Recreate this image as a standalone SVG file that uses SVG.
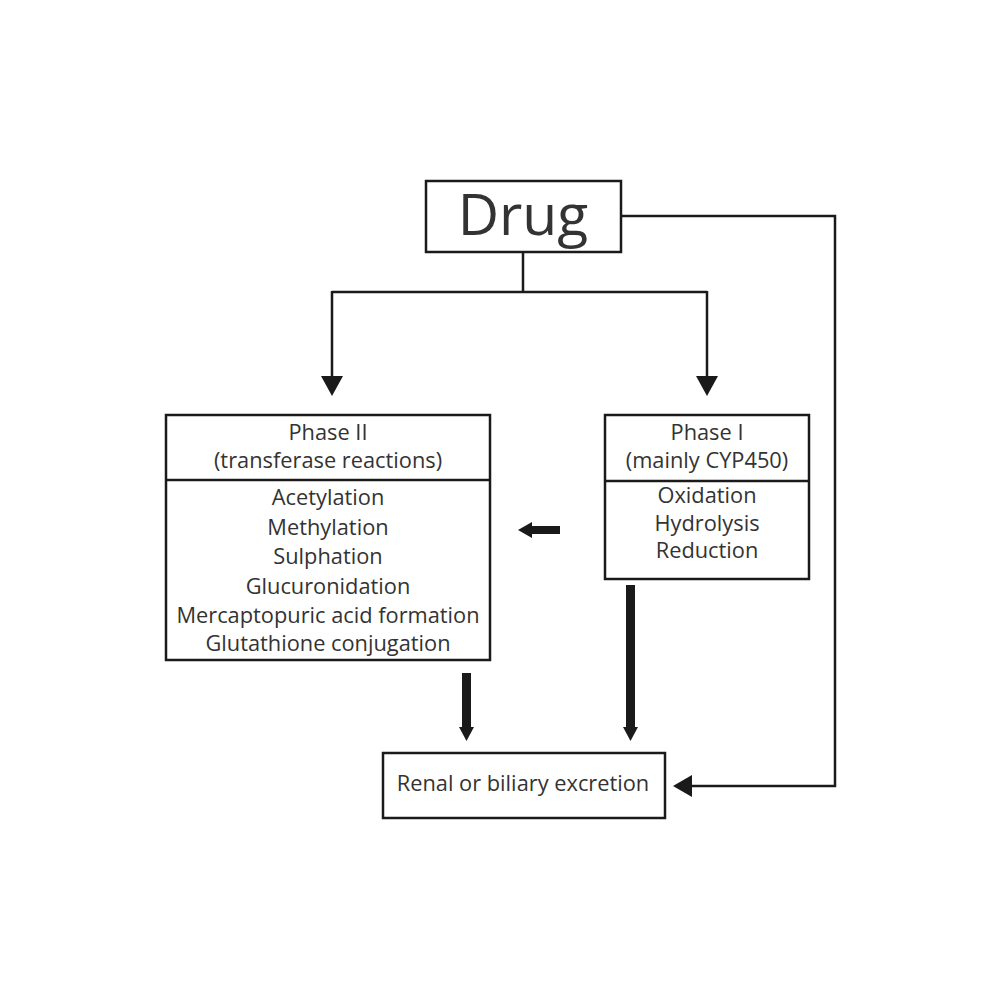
<svg xmlns="http://www.w3.org/2000/svg" width="1000" height="1000" viewBox="0 0 1000 1000">
<defs>
<style>
.box{fill:#fff;stroke:#1a1a1a;stroke-width:2.5}
.div{stroke:#1a1a1a;stroke-width:2.5}
.t{font-family:"Open Sans","Noto Sans",sans-serif;font-size:21.8px;fill:#333;text-anchor:middle}
.big{font-family:"Open Sans","Noto Sans",sans-serif;font-size:57px;fill:#333;text-anchor:middle}
.ln{fill:none;stroke:#1a1a1a;stroke-width:2.5}
.head{fill:#1a1a1a}
</style>
</defs>
<rect width="1000" height="1000" fill="#fff"/>
<g id="connectors">
<path class="ln" d="M523,253 V292 M332,292 H707 M332,291 V378 M707,291 V378"/>
<polygon class="head" points="321,376 343,376 332,396"/>
<polygon class="head" points="696,376 718,376 707,396"/>
<path class="ln" d="M621,216 H835 V786 H690"/>
<polygon class="head" points="673,786 692,775 692,797"/>
<rect class="head" x="462" y="673" width="9" height="55"/>
<polygon class="head" points="459,727 474,727 466.5,741"/>
<rect class="head" x="626" y="585" width="9" height="143"/>
<polygon class="head" points="623,727 638,727 630.5,741"/>
<rect class="head" x="531" y="526" width="29" height="8"/>
<polygon class="head" points="518,530 532,522 532,538"/>
</g>
<g id="drug">
<rect class="box" x="426" y="181" width="195" height="71"/>
<text class="big" x="523" y="235">Drug</text>
</g>
<g id="phase2">
<rect class="box" x="166" y="415" width="324" height="245"/>
<line class="div" x1="166" y1="480" x2="490" y2="480"/>
<text class="t" x="328" y="440">Phase II</text>
<text class="t" x="328" y="468">(transferase reactions)</text>
<text class="t" x="328" y="505">Acetylation</text>
<text class="t" x="328" y="535">Methylation</text>
<text class="t" x="328" y="564">Sulphation</text>
<text class="t" x="328" y="594">Glucuronidation</text>
<text class="t" x="328" y="623">Mercaptopuric acid formation</text>
<text class="t" x="328" y="651">Glutathione conjugation</text>
</g>
<g id="phase1">
<rect class="box" x="605" y="415" width="204" height="164"/>
<line class="div" x1="605" y1="481" x2="809" y2="481"/>
<text class="t" x="707" y="440">Phase I</text>
<text class="t" x="707" y="468">(mainly CYP450)</text>
<text class="t" x="707" y="503">Oxidation</text>
<text class="t" x="707" y="531">Hydrolysis</text>
<text class="t" x="707" y="558">Reduction</text>
</g>
<g id="excretion">
<rect class="box" x="383" y="753" width="282" height="65"/>
<text class="t" x="523" y="791">Renal or biliary excretion</text>
</g>
</svg>
